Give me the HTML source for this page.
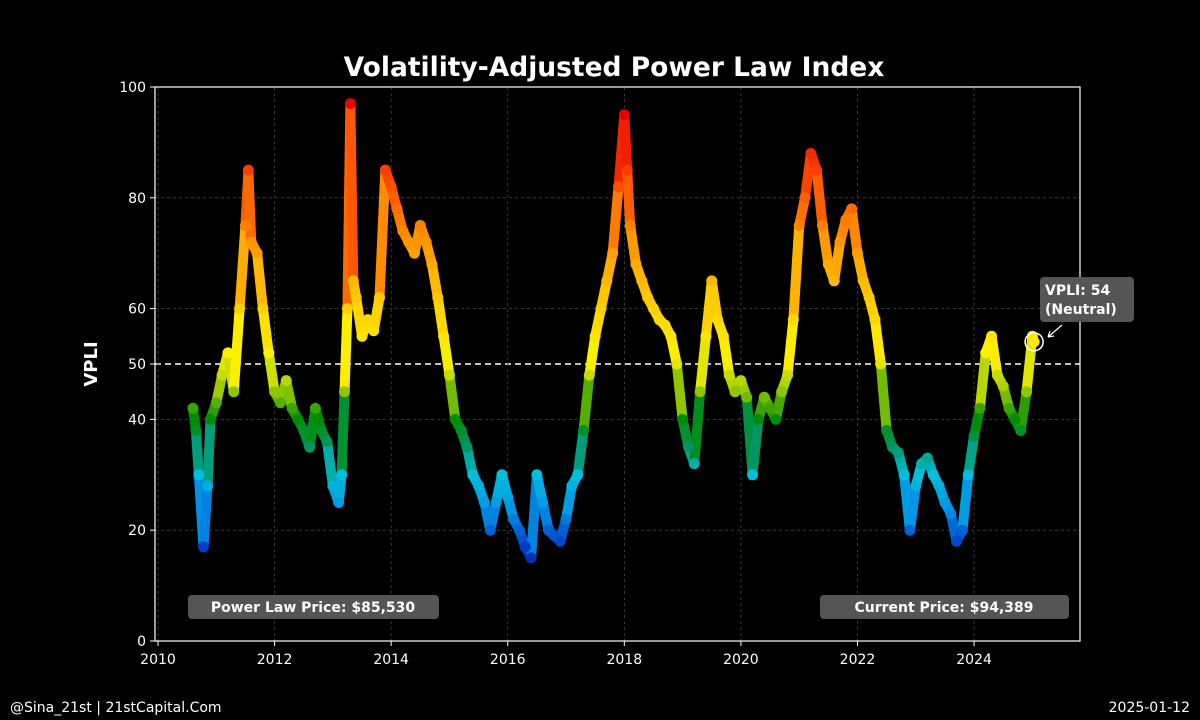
<!DOCTYPE html>
<html><head><meta charset="utf-8">
<style>
html,body{margin:0;padding:0;background:#000;}
svg{display:block;font-family:"DejaVu Sans","Liberation Sans",sans-serif;}
</style></head>
<body>
<svg id="chart" width="1200" height="720" viewBox="0 0 1200 720">
<rect x="0" y="0" width="1200" height="720" fill="#000"/>
<text x="614" y="76" fill="#fff" font-size="26.5" font-weight="bold" text-anchor="middle">Volatility-Adjusted Power Law Index</text>
<g id="grid"></g>
<g id="marks"></g>
<rect x="155" y="87" width="925" height="554" fill="none" stroke="#fff" stroke-width="1.2"/>
<g id="axes"></g>
<text x="0" y="0" transform="translate(97,364) rotate(-90)" fill="#fff" font-size="18" font-weight="bold" text-anchor="middle">VPLI</text>
<g>
<rect x="188" y="595" width="251" height="24" rx="4" fill="#555"/>
<text x="313" y="612" fill="#fff" font-size="14" font-weight="bold" text-anchor="middle">Power Law Price: $85,530</text>
</g>
<g>
<rect x="820" y="595" width="249" height="24" rx="4" fill="#555"/>
<text x="944" y="612" fill="#fff" font-size="14" font-weight="bold" text-anchor="middle">Current Price: $94,389</text>
</g>
<g id="annot">
<rect x="1040" y="277" width="94" height="45" rx="4" fill="#555"/>
<text x="1045" y="295" fill="#fff" font-size="14" font-weight="bold">VPLI: 54</text>
<text x="1045" y="314" fill="#fff" font-size="14" font-weight="bold">(Neutral)</text>
<line x1="1062" y1="325" x2="1048" y2="337" stroke="#fff" stroke-width="1.2"/>
<path d="M1048 337 l2 -6 M1048 337 l6 -1" stroke="#fff" stroke-width="1.2" fill="none"/>
</g>
<text x="10" y="712" fill="#fff" font-size="14">@Sina_21st | 21stCapital.Com</text>
<text x="1190" y="712" fill="#fff" font-size="14" text-anchor="end">2025-01-12</text>
</svg>
<script>
const dates = [2010.60,2010.65,2010.70,2010.78,2010.85,2010.90,2011.0,2011.1,2011.2,2011.3,2011.4,2011.5,2011.55,2011.6,2011.7,2011.8,2011.9,2012.0,2012.1,2012.2,2012.3,2012.4,2012.5,2012.6,2012.7,2012.8,2012.9,2013.0,2013.1,2013.15,2013.2,2013.25,2013.3,2013.35,2013.4,2013.5,2013.6,2013.7,2013.8,2013.9,2014.0,2014.1,2014.2,2014.3,2014.4,2014.5,2014.6,2014.7,2014.8,2014.9,2015.0,2015.1,2015.2,2015.3,2015.4,2015.5,2015.6,2015.7,2015.8,2015.9,2016.0,2016.1,2016.2,2016.3,2016.4,2016.5,2016.6,2016.7,2016.8,2016.9,2017.0,2017.1,2017.2,2017.3,2017.4,2017.5,2017.6,2017.7,2017.8,2017.9,2018.0,2018.05,2018.1,2018.2,2018.3,2018.4,2018.5,2018.6,2018.7,2018.8,2018.9,2019.0,2019.1,2019.2,2019.3,2019.4,2019.5,2019.6,2019.7,2019.8,2019.9,2020.0,2020.1,2020.2,2020.3,2020.4,2020.5,2020.6,2020.7,2020.8,2020.9,2021.0,2021.1,2021.2,2021.3,2021.4,2021.5,2021.6,2021.7,2021.8,2021.9,2022.0,2022.1,2022.2,2022.3,2022.4,2022.5,2022.6,2022.7,2022.8,2022.9,2023.0,2023.1,2023.2,2023.3,2023.4,2023.5,2023.6,2023.7,2023.8,2023.9,2024.0,2024.1,2024.2,2024.3,2024.4,2024.5,2024.6,2024.7,2024.8,2024.9,2025.0,2025.03];
const vpli = [42,38,30,17,28,40,43,48,52,45,60,75,85,72,70,60,52,45,43,47,42,40,38,35,42,38,36,28,25,30,45,60,97,65,62,55,58,56,62,85,82,78,74,72,70,75,72,68,62,55,48,40,38,35,30,28,25,20,25,30,26,22,20,17,15,30,25,20,19,18,22,28,30,38,48,55,60,65,70,82,95,85,75,68,65,62,60,58,57,55,50,40,35,32,45,55,65,58,55,48,45,47,44,30,40,44,42,40,45,48,58,75,80,88,85,75,68,65,72,76,78,70,65,62,58,50,38,35,34,30,20,28,32,33,30,28,25,23,18,20,30,37,42,52,55,48,46,42,40,38,45,55,54];
const yTicks = [0,20,40,50,60,80,100];
const xTicks = [2010,2012,2014,2016,2018,2020,2022,2024];

const NS="http://www.w3.org/2000/svg";
const X = d => 158 + (d-2010)*58.29;
const Y = v => 641 - v*5.54;
function color(v){
  const stops=[[10,[0,20,140]],[17,[0,60,200]],[24,[0,150,230]],[30,[0,190,220]],[35,[0,150,100]],[40,[0,140,0]],[46,[170,210,0]],[52,[255,240,0]],[62,[255,200,0]],[72,[255,150,0]],[82,[255,80,0]],[95,[230,0,0]]];
  if(v<=stops[0][0])return `rgb(${stops[0][1]})`;
  for(let i=1;i<stops.length;i++){if(v<=stops[i][0]){const a=stops[i-1],b=stops[i],t=(v-a[0])/(b[0]-a[0]);return `rgb(${a[1].map((c,k)=>Math.round(c+(b[1][k]-c)*t)).join(',')})`;}}
  return 'rgb(230,0,0)';
}
function el(tag,attrs,parent){const e=document.createElementNS(NS,tag);for(const k in attrs)e.setAttribute(k,attrs[k]);parent.appendChild(e);return e;}
const grid=document.getElementById('grid'),axes=document.getElementById('axes'),marks=document.getElementById('marks');
yTicks.forEach(t=>{
  if(t===50){const l=el('line',{x1:155,x2:1080,y1:Y(t),y2:Y(t),stroke:'#fff','stroke-width':1.5,'stroke-dasharray':'6,4'},grid);
    
    
  } else {const g=el('line',{x1:155,x2:1080,y1:Y(t),y2:Y(t),stroke:'#444','stroke-width':0.8,'stroke-dasharray':'3,3'},grid);
    
    }
  const tk=el('line',{x1:150,x2:155,y1:Y(t),y2:Y(t),stroke:'#fff'},axes);
  
  
  const tx=el('text',{x:146,y:Y(t)+5,fill:'#fff','font-size':14,'text-anchor':'end'},axes);tx.textContent=t;
  
  
});
xTicks.forEach(t=>{
  const g=el('line',{x1:X(t),x2:X(t),y1:87,y2:641,stroke:'#444','stroke-width':0.8,'stroke-dasharray':'3,3'},grid);
  
  
  const tk=el('line',{x1:X(t),x2:X(t),y1:641,y2:646,stroke:'#fff'},axes);
  
  
  const tx=el('text',{x:X(t),y:664,fill:'#fff','font-size':14,'text-anchor':'middle'},axes);tx.textContent=t;
  
  
});
for(let i=1;i<dates.length;i++){
  const s=el('line',{x1:X(dates[i-1]),y1:Y(vpli[i-1]),x2:X(dates[i]),y2:Y(vpli[i]),stroke:color((vpli[i-1]+vpli[i])/2),'stroke-width':10,'stroke-linecap':'round'},marks);
  
  
}
dates.forEach((d,i)=>{
  const c=el('circle',{cx:X(d),cy:Y(vpli[i]),r:5.5,fill:color(vpli[i])},marks);
  
  
});
const last=dates.length-1;
const ring=el('circle',{cx:X(dates[last]),cy:Y(vpli[last]),r:9,fill:'none',stroke:'#fff','stroke-width':1.5},document.getElementById('annot'));


</script>
</body></html>
